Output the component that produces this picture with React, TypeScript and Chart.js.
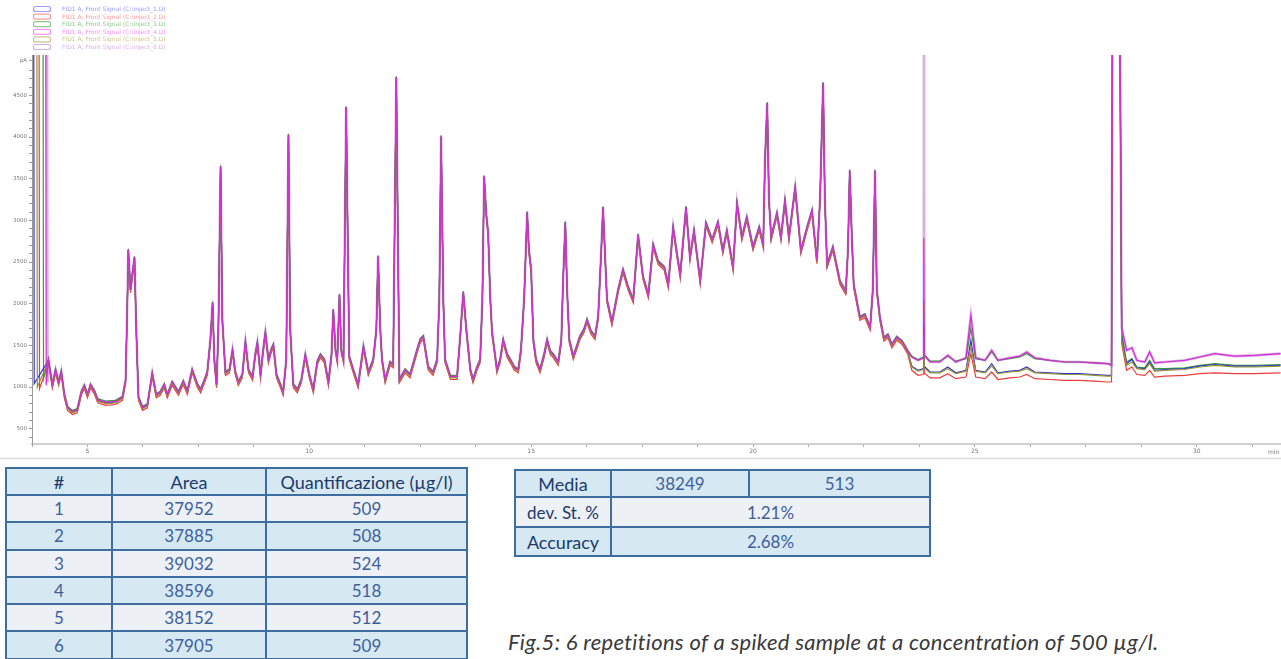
import React, { useEffect, useRef } from 'react';
import { Chart, registerables } from 'chart.js';

Chart.register(...registerables);

// ---------- chromatogram data (time in min, signal in pA) ----------
const seriesLabels = [
  'FID1 A, Front Signal (C:\\inject_1.D)',
  'FID1 A, Front Signal (C:\\inject_2.D)',
  'FID1 A, Front Signal (C:\\inject_3.D)',
  'FID1 A, Front Signal (C:\\inject_4.D)',
  'FID1 A, Front Signal (C:\\inject_5.D)',
  'FID1 A, Front Signal (C:\\inject_6.D)',
];
const seriesColors = ['#3434d4', '#ec3c3c', '#3a9a3a', '#d42ed4', '#96962e', '#dcaee6'];
const legendColors = ['#7070ff', '#ff7070', '#60b060', '#ff60ff', '#b0b060', '#c890d8'];
const seriesWidths = [1.2, 1.2, 1.2, 1.2, 1.2, 2.6];
const seriesOrder = [3, 5, 4, 1, 2, 6];

// solvent front: time at which each run leaves saturation
const solventEnd = [3.78, 3.9, 3.99, 4.05, 3.85, 4.08];
const solventFoot = [1040, 980, 1100, 1020, 1000, 1060];
// small vertical separation of each run over the main part of the run
const fringeOffset = [0, -30, 20, 8, -10, 8];

const mainTimes = [
  4.12, 4.21, 4.28, 4.35, 4.41, 4.48, 4.55, 4.66, 4.77, 4.86, 4.93, 5.0, 5.07, 5.16, 5.23, 5.41, 5.63, 5.79,
  5.86, 5.9, 5.92, 5.97, 6.01, 6.06, 6.1, 6.15, 6.24, 6.35, 6.46, 6.55, 6.64, 6.73, 6.8, 6.91, 7.05, 7.16,
  7.25, 7.36, 7.48, 7.55, 7.64, 7.7, 7.77, 7.82, 7.86, 7.91, 7.95, 8.0, 8.04, 8.11, 8.2, 8.27, 8.33, 8.4,
  8.49, 8.56, 8.63, 8.72, 8.78, 8.83, 8.9, 8.96, 9.01, 9.08, 9.14, 9.19, 9.26, 9.35, 9.41, 9.48, 9.53, 9.57,
  9.64, 9.73, 9.82, 9.91, 10.0, 10.09, 10.18, 10.25, 10.34, 10.43, 10.5, 10.54, 10.59, 10.63, 10.68, 10.72,
  10.77, 10.83, 10.9, 10.99, 11.1, 11.22, 11.33, 11.44, 11.51, 11.55, 11.6, 11.64, 11.71, 11.82, 11.89,
  11.96, 12.03, 12.16, 12.27, 12.43, 12.5, 12.57, 12.68, 12.79, 12.88, 12.93, 12.97, 13.02, 13.06, 13.18,
  13.33, 13.4, 13.47, 13.54, 13.63, 13.69, 13.78, 13.85, 13.9, 13.94, 13.99, 14.03, 14.08, 14.12, 14.23,
  14.3, 14.37, 14.46, 14.53, 14.62, 14.71, 14.77, 14.84, 14.91, 14.95, 15.0, 15.05, 15.11, 15.2, 15.29,
  15.36, 15.43, 15.5, 15.61, 15.68, 15.72, 15.77, 15.81, 15.86, 15.95, 16.04, 16.1, 16.19, 16.26, 16.35,
  16.44, 16.51, 16.58, 16.62, 16.67, 16.71, 16.82, 16.96, 17.07, 17.18, 17.3, 17.41, 17.52, 17.64, 17.75,
  17.86, 18.0, 18.09, 18.2, 18.29, 18.36, 18.49, 18.58, 18.67, 18.81, 18.94, 19.08, 19.21, 19.32, 19.41,
  19.55, 19.64, 19.75, 19.86, 20.0, 20.14, 20.23, 20.27, 20.32, 20.36, 20.41, 20.54, 20.63, 20.72, 20.81,
  20.95, 21.08, 21.22, 21.33, 21.44, 21.51, 21.58, 21.62, 21.67, 21.8, 21.96, 22.09, 22.14, 22.18, 22.23,
  22.27, 22.41, 22.52, 22.64, 22.7, 22.75, 22.79, 22.86, 22.95, 23.04, 23.13, 23.24, 23.36, 23.49,
];
const mainSignal = [
  1320, 1020, 1200, 1050, 1180, 900, 750, 700, 720, 930, 1010, 900, 1020, 940, 840, 810, 820, 870,
  1080, 2040, 2640, 2160, 2340, 2550, 1680, 870, 750, 780, 1160, 900, 930, 1020, 900, 1050, 930, 1060,
  940, 1200, 1020, 960, 1080, 1170, 1560, 2010, 1320, 1020, 1680, 3640, 1800, 1170, 1200, 1440, 1180, 1050,
  1140, 1540, 1200, 1110, 1380, 1530, 1140, 1440, 1650, 1320, 1440, 1500, 1140, 1020, 930, 1320, 4020, 1680,
  1020, 960, 1080, 1380, 1140, 960, 1300, 1380, 1320, 1050, 1380, 1920, 1440, 1320, 2100, 1440,
  1320, 4350, 1360, 1200, 1020, 1480, 1170, 1320, 1680, 2560, 1680, 1320, 1080, 1290, 1260,
  4710, 1080, 1200, 1140, 1440, 1560, 1600, 1230, 1170, 1320, 2040, 4000, 2040, 1320, 1120,
  1120, 1600, 2130, 1680, 1200, 1080, 1230, 1320, 2040, 3520, 3060, 2850, 2040, 1650, 1200,
  1320, 1560, 1380, 1320, 1230, 1200, 1440, 2040, 3090, 2640, 2400, 1560, 1320, 1200, 1380,
  1560, 1420, 1380, 1290, 1560, 2280, 2970, 2160, 1560, 1360, 1500, 1600, 1680, 1800, 1660,
  1600, 1840, 2640, 3150, 2520, 2040, 1770, 2160, 2400, 2200, 2040, 2820, 2320, 2100, 2700,
  2500, 2430, 2220, 2910, 2580, 2340, 3150, 2550, 2870, 2270, 2960, 2760, 2970, 2630, 2870,
  2430, 3200, 2790, 3030, 2670, 2910, 2700, 3720, 4400, 3240, 2790, 3080, 2790, 3230, 2790,
  3390, 2630, 2910, 3110, 2510, 3240, 4640, 3240, 2460, 2670, 2260, 2140, 2640, 3590, 2760,
  2220, 1830, 1860, 1710, 2160, 3590, 2160, 1830, 1580, 1620, 1500, 1590, 1540, 1420,
];

// late part of the run, where the six baselines separate
const tailTimes = [
  23.58, 23.72, 23.84, 23.85, 23.86, 23.99, 24.21, 24.39, 24.57, 24.8, 24.91, 25.02, 25.23, 25.38, 25.52,
  25.79, 26.01, 26.17, 26.35, 26.69, 27.03, 27.36, 27.7, 27.99, 28.08, 28.12, 28.23, 28.31, 28.42, 28.54,
  28.65, 28.83, 28.94, 29.05, 29.28, 29.73, 30.07, 30.41, 30.86, 31.31, 31.89,
];
const tailBlue = [
  1250, 1200, 1220, 1740, 1250, 1180, 1180, 1240, 1170, 1200, 1560, 1200, 1180, 1280, 1170,
  1190, 1200, 1240, 1180, 1170, 1160, 1160, 1150, 1140, 1140, 9000, 9000, 1600, 1280, 1330,
  1230, 1220, 1300, 1200, 1210, 1220, 1250, 1270, 1250, 1250, 1260,
];
const tailRed = [
  1200, 1140, 1150, 1500, 1170, 1110, 1110, 1160, 1100, 1120, 1400, 1120, 1100, 1180, 1090,
  1110, 1120, 1150, 1100, 1090, 1080, 1080, 1070, 1060, 1060, 9000, 9000, 1520, 1200, 1240,
  1150, 1140, 1200, 1120, 1130, 1140, 1160, 1170, 1160, 1160, 1170,
];
const tailGreen = [
  1370, 1330, 1360, 2040, 1390, 1310, 1310, 1370, 1310, 1340, 1700, 1340, 1320, 1420, 1320,
  1340, 1360, 1400, 1340, 1320, 1300, 1300, 1290, 1280, 1270, 9000, 9000, 1640, 1300, 1340,
  1240, 1230, 1320, 1220, 1220, 1230, 1260, 1280, 1260, 1260, 1270,
];
const tailMagenta = [
  1360, 1320, 1350, 2790, 1380, 1300, 1300, 1380, 1300, 1350, 1860, 1350, 1320, 1440, 1320,
  1350, 1370, 1420, 1350, 1320, 1300, 1300, 1290, 1280, 1260, 9000, 9000, 1710, 1440, 1470,
  1320, 1300, 1420, 1290, 1300, 1320, 1360, 1400, 1370, 1380, 1400,
];
const tailOlive = [
  1240, 1190, 1210, 1600, 1230, 1170, 1170, 1220, 1160, 1190, 1480, 1190, 1170, 1250, 1160,
  1180, 1190, 1220, 1170, 1160, 1150, 1150, 1140, 1130, 1130, 9000, 9000, 1560, 1260, 1300,
  1220, 1210, 1280, 1190, 1200, 1210, 1240, 1260, 1240, 1240, 1250,
];
const tailPurple = [
  1360, 1320, 1350, 9000, 1380, 1300, 1300, 1380, 1300, 1350, 1860, 1350, 1320, 1440, 1320,
  1350, 1370, 1420, 1350, 1320, 1300, 1300, 1290, 1280, 1260, 9000, 9000, 1710, 1440, 1470,
  1320, 1300, 1420, 1290, 1300, 1320, 1360, 1400, 1370, 1380, 1400,
];
const seriesTails = [tailBlue, tailRed, tailGreen, tailMagenta, tailOlive, tailPurple];

// axes
const yMajorTicks = [500, 1000, 1500, 2000, 2500, 3000, 3500, 4000, 4500];
const yUnitTick = 4920;
const xMajorTicks = [5, 10, 15, 20, 25, 30];

// ---------- tables ----------
const runIds = ['1', '2', '3', '4', '5', '6'];
const runAreas = ['37952', '37885', '39032', '38596', '38152', '37905'];
const runQuant = ['509', '508', '524', '518', '512', '509'];
const meanArea = '38249';
const meanQuant = '513';
const devStPct = '1.21%';
const accuracyPct = '2.68%';

function buildSeries(i: number) {
  const pts: { x: number; y: number }[] = [
    { x: 3.75, y: 9000 },
    { x: solventEnd[i], y: 9000 },
    { x: solventEnd[i] + 0.02, y: solventFoot[i] },
  ];
  mainTimes.forEach((t, j) => pts.push({ x: t, y: mainSignal[j] + fringeOffset[i] }));
  tailTimes.forEach((t, j) => pts.push({ x: t, y: seriesTails[i][j] }));
  return pts;
}

const overlayPlugin = {
  id: 'overlay',
  afterDraw(chart: any) {
    const ctx = chart.ctx as CanvasRenderingContext2D;
    ctx.save();
    // legend
    ctx.font = '6px "DejaVu Sans"';
    ctx.textBaseline = 'middle';
    for (let i = 0; i < seriesLabels.length; i++) {
      const y = 9 + i * 7.6;
      ctx.globalAlpha = 0.7;
      ctx.strokeStyle = legendColors[i];
      ctx.lineWidth = 1.2;
      ctx.beginPath();
      (ctx as any).roundRect(33.5, y - 2.5, 17, 5, 2);
      ctx.stroke();
      ctx.fillStyle = legendColors[i];
      ctx.fillText(seriesLabels[i], 62, y + 0.5);
    }
    ctx.globalAlpha = 1;
    // unit label on time axis
    ctx.fillStyle = '#777';
    ctx.font = '6px "DejaVu Sans"';
    ctx.textBaseline = 'top';
    ctx.fillText('min', 1268, 449);
    // frame line below axis area
    ctx.strokeStyle = '#dedede';
    ctx.lineWidth = 1.5;
    ctx.beginPath();
    ctx.moveTo(0, 458.5);
    ctx.lineTo(1281, 458.5);
    ctx.stroke();
    ctx.restore();
  },
};

function ChromChart() {
  const ref = useRef<HTMLCanvasElement | null>(null);
  useEffect(() => {
    if (!ref.current) return;
    const chart = new Chart(ref.current, {
      type: 'line',
      data: {
        datasets: seriesLabels.map((label, i) => ({
          label,
          data: buildSeries(i),
          borderColor: seriesColors[i],
          borderWidth: seriesWidths[i],
          pointRadius: 0,
          tension: 0,
          fill: false,
          order: seriesOrder[i],
        })),
      },
      options: {
        animation: false,
        responsive: false,
        layout: { padding: { top: 55, right: 0, left: 0, bottom: 0 } },
        plugins: { legend: { display: false }, tooltip: { enabled: false } },
        scales: {
          x: {
            type: 'linear',
            min: 3.75,
            max: 31.9,
            afterBuildTicks: (scale: any) => {
              const ticks: { value: number }[] = [];
              for (let v = 3.75; v <= 31.3; v += 1.25) ticks.push({ value: Math.round(v * 100) / 100 });
              scale.ticks = ticks;
            },
            afterFit: (scale: any) => {
              scale.height = 18;
            },
            ticks: {
              autoSkip: false,
              maxRotation: 0,
              padding: 1,
              color: '#777',
              font: { size: 6, family: 'DejaVu Sans' },
              callback: (v: any) => (xMajorTicks.includes(Number(v)) ? String(v) : ''),
            },
            grid: { drawOnChartArea: false, drawTicks: true, tickLength: 3, color: '#aaa' },
            border: { color: '#cfcfcf', width: 2 },
          },
          y: {
            min: 316,
            max: 4984,
            afterBuildTicks: (scale: any) => {
              const ticks: { value: number }[] = [];
              for (let v = 400; v <= 4800; v += 100) ticks.push({ value: v });
              ticks.push({ value: yUnitTick });
              scale.ticks = ticks;
            },
            afterFit: (scale: any) => {
              scale.width = 32;
            },
            ticks: {
              autoSkip: false,
              padding: 2,
              color: '#777',
              font: { size: 5.5, family: 'DejaVu Sans' },
              callback: (v: any) => {
                const n = Number(v);
                if (n === yUnitTick) return 'pA';
                return yMajorTicks.includes(n) ? String(n) : '';
              },
            },
            grid: { drawOnChartArea: false, drawTicks: true, tickLength: 3, color: '#999' },
            border: { color: '#9a9a9a', width: 1 },
          },
        },
      },
      plugins: [overlayPlugin],
    } as any);
    return () => chart.destroy();
  }, []);
  return (
    <canvas
      ref={ref}
      width={1281}
      height={462}
      style={{ position: 'absolute', left: 0, top: 0, width: 1281, height: 462 }}
    />
  );
}

const border = '2px solid #3d6e9f';
const blueBg = '#d6e8f1';
const grayBg = '#edf0f4';
const darkText = '#1b3a6c';
const lightText = '#3f5f9c';
const font = 'Lato, "Open Sans", sans-serif';

function cell(content: string, opts: { bg: string; color: string; size: number; colSpan?: number; width?: number }) {
  return (
    <td
      colSpan={opts.colSpan}
      style={{
        border,
        background: opts.bg,
        color: opts.color,
        fontSize: opts.size,
        textAlign: 'center',
        padding: 0,
        width: opts.width,
        lineHeight: 1,
        whiteSpace: 'nowrap',
      }}
    >
      {content}
    </td>
  );
}

export default function App() {
  return (
    <div
      style={{
        position: 'absolute',
        left: 0,
        top: 0,
        width: 1281,
        height: 659,
        overflow: 'hidden',
        background: '#fff',
        fontFamily: font,
      }}
    >
      <ChromChart />
      <table
        style={{
          position: 'absolute',
          left: 5,
          top: 467,
          width: 463,
          borderCollapse: 'collapse',
          tableLayout: 'fixed',
          fontFamily: font,
        }}
      >
        <tbody>
          <tr style={{ height: 27 }}>
            {cell('#', { bg: blueBg, color: darkText, size: 18, width: 104 })}
            {cell('Area', { bg: blueBg, color: darkText, size: 18, width: 152 })}
            {cell('Quantificazione (µg/l)', { bg: blueBg, color: darkText, size: 18 })}
          </tr>
          {runIds.map((id, i) => (
            <tr key={id} style={{ height: 27.3 }}>
              {cell(id, { bg: i % 2 === 0 ? grayBg : blueBg, color: lightText, size: 17 })}
              {cell(runAreas[i], { bg: i % 2 === 0 ? grayBg : blueBg, color: lightText, size: 17 })}
              {cell(runQuant[i], { bg: i % 2 === 0 ? grayBg : blueBg, color: lightText, size: 17 })}
            </tr>
          ))}
        </tbody>
      </table>
      <table
        style={{
          position: 'absolute',
          left: 514,
          top: 469,
          width: 417,
          borderCollapse: 'collapse',
          tableLayout: 'fixed',
          fontFamily: font,
        }}
      >
        <tbody>
          <tr style={{ height: 27 }}>
            {cell('Media', { bg: blueBg, color: darkText, size: 18, width: 94 })}
            {cell(meanArea, { bg: blueBg, color: lightText, size: 17, width: 136 })}
            {cell(meanQuant, { bg: blueBg, color: lightText, size: 17 })}
          </tr>
          <tr style={{ height: 30 }}>
            {cell('dev. St. %', { bg: grayBg, color: darkText, size: 17 })}
            {cell(devStPct, { bg: grayBg, color: lightText, size: 17, colSpan: 2 })}
          </tr>
          <tr style={{ height: 29 }}>
            {cell('Accuracy', { bg: blueBg, color: darkText, size: 18 })}
            {cell(accuracyPct, { bg: blueBg, color: lightText, size: 17, colSpan: 2 })}
          </tr>
        </tbody>
      </table>
      <div
        style={{
          position: 'absolute',
          left: 508,
          top: 628,
          fontFamily: font,
          fontStyle: 'italic',
          fontSize: 22,
          letterSpacing: 0.3,
          color: '#3a3a3a',
          whiteSpace: 'nowrap',
        }}
      >
        Fig.5: 6 repetitions of a spiked sample at a concentration of 500 µg/l.
      </div>
    </div>
  );
}
